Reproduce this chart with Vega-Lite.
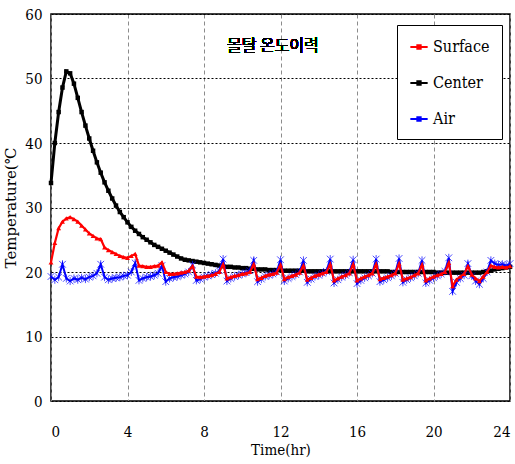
{
  "$schema": "https://vega.github.io/schema/vega-lite/v6.json",
  "width": 459,
  "height": 387,
  "autosize": {"type": "none"},
  "padding": {"left": 51, "top": 14, "right": 5, "bottom": 63},
  "background": "white",
  "config": {
    "view": {"stroke": "#000", "strokeWidth": 1.5},
    "font": "DejaVu Serif Condensed"
  },
  "data": {"values": [
    {"t":0.0,"Surface":21.5,"Center":33.8,"Air":19.3},
    {"t":0.2,"Surface":24.5,"Center":40.0,"Air":18.8},
    {"t":0.4,"Surface":26.8,"Center":44.8,"Air":19.2},
    {"t":0.6,"Surface":27.8,"Center":48.6,"Air":21.2},
    {"t":0.8,"Surface":28.3,"Center":51.1,"Air":19.0},
    {"t":1.0,"Surface":28.5,"Center":50.8,"Air":18.6},
    {"t":1.2,"Surface":28.2,"Center":49.2,"Air":19.0},
    {"t":1.4,"Surface":27.8,"Center":47.0,"Air":18.8},
    {"t":1.6,"Surface":27.2,"Center":44.8,"Air":19.1},
    {"t":1.8,"Surface":26.6,"Center":42.7,"Air":18.9},
    {"t":2.0,"Surface":26.0,"Center":40.7,"Air":19.2},
    {"t":2.2,"Surface":25.6,"Center":38.8,"Air":19.4},
    {"t":2.4,"Surface":25.2,"Center":37.0,"Air":19.8},
    {"t":2.6,"Surface":25.1,"Center":35.4,"Air":21.2},
    {"t":2.8,"Surface":23.8,"Center":33.9,"Air":19.2},
    {"t":3.0,"Surface":23.4,"Center":32.6,"Air":18.8},
    {"t":3.2,"Surface":23.1,"Center":31.4,"Air":19.0},
    {"t":3.4,"Surface":22.8,"Center":30.3,"Air":19.1},
    {"t":3.6,"Surface":22.5,"Center":29.3,"Air":19.2},
    {"t":3.8,"Surface":22.3,"Center":28.5,"Air":19.4},
    {"t":4.0,"Surface":22.2,"Center":27.7,"Air":19.5},
    {"t":4.2,"Surface":22.5,"Center":27.0,"Air":20.0},
    {"t":4.4,"Surface":22.8,"Center":26.4,"Air":21.4},
    {"t":4.6,"Surface":21.0,"Center":25.9,"Air":18.7},
    {"t":4.8,"Surface":20.9,"Center":25.4,"Air":19.0},
    {"t":5.0,"Surface":20.8,"Center":25.0,"Air":19.2},
    {"t":5.2,"Surface":20.8,"Center":24.6,"Air":19.3},
    {"t":5.4,"Surface":20.9,"Center":24.2,"Air":19.5},
    {"t":5.6,"Surface":21.0,"Center":23.9,"Air":19.8},
    {"t":5.8,"Surface":21.5,"Center":23.6,"Air":21.0},
    {"t":6.0,"Surface":20.0,"Center":23.3,"Air":18.5},
    {"t":6.2,"Surface":19.7,"Center":23.0,"Air":19.0},
    {"t":6.4,"Surface":19.7,"Center":22.7,"Air":19.2},
    {"t":6.6,"Surface":19.8,"Center":22.4,"Air":19.3},
    {"t":6.8,"Surface":19.9,"Center":22.1,"Air":19.5},
    {"t":7.0,"Surface":20.0,"Center":21.9,"Air":19.7},
    {"t":7.2,"Surface":20.2,"Center":21.8,"Air":20.0},
    {"t":7.4,"Surface":20.9,"Center":21.7,"Air":21.1},
    {"t":7.6,"Surface":19.3,"Center":21.6,"Air":18.7},
    {"t":7.8,"Surface":19.2,"Center":21.5,"Air":18.9},
    {"t":8.0,"Surface":19.3,"Center":21.4,"Air":19.2},
    {"t":8.2,"Surface":19.4,"Center":21.3,"Air":19.4},
    {"t":8.4,"Surface":19.5,"Center":21.2,"Air":19.6},
    {"t":8.6,"Surface":19.7,"Center":21.1,"Air":19.8},
    {"t":8.8,"Surface":20.0,"Center":21.0,"Air":20.2},
    {"t":9.0,"Surface":21.2,"Center":20.9,"Air":22.0},
    {"t":9.2,"Surface":19.0,"Center":20.8,"Air":18.6},
    {"t":9.4,"Surface":19.2,"Center":20.8,"Air":19.0},
    {"t":9.6,"Surface":19.4,"Center":20.7,"Air":19.3},
    {"t":9.8,"Surface":19.5,"Center":20.7,"Air":19.5},
    {"t":10.0,"Surface":19.7,"Center":20.6,"Air":19.7},
    {"t":10.2,"Surface":19.8,"Center":20.6,"Air":19.9},
    {"t":10.4,"Surface":20.0,"Center":20.5,"Air":20.2},
    {"t":10.6,"Surface":21.2,"Center":20.5,"Air":21.8},
    {"t":10.8,"Surface":18.9,"Center":20.4,"Air":18.5},
    {"t":11.0,"Surface":19.1,"Center":20.4,"Air":18.9},
    {"t":11.2,"Surface":19.4,"Center":20.4,"Air":19.3},
    {"t":11.4,"Surface":19.6,"Center":20.3,"Air":19.5},
    {"t":11.6,"Surface":19.7,"Center":20.3,"Air":19.7},
    {"t":11.8,"Surface":19.9,"Center":20.3,"Air":20.0},
    {"t":12.0,"Surface":21.1,"Center":20.3,"Air":21.9},
    {"t":12.2,"Surface":18.9,"Center":20.2,"Air":18.6},
    {"t":12.4,"Surface":19.2,"Center":20.2,"Air":19.0},
    {"t":12.6,"Surface":19.4,"Center":20.2,"Air":19.3},
    {"t":12.8,"Surface":19.6,"Center":20.2,"Air":19.6},
    {"t":13.0,"Surface":19.9,"Center":20.2,"Air":20.0},
    {"t":13.2,"Surface":21.0,"Center":20.2,"Air":21.8},
    {"t":13.4,"Surface":18.8,"Center":20.1,"Air":18.4},
    {"t":13.6,"Surface":19.1,"Center":20.1,"Air":18.9},
    {"t":13.8,"Surface":19.4,"Center":20.1,"Air":19.3},
    {"t":14.0,"Surface":19.6,"Center":20.1,"Air":19.5},
    {"t":14.2,"Surface":19.8,"Center":20.1,"Air":19.8},
    {"t":14.4,"Surface":20.0,"Center":20.1,"Air":20.1},
    {"t":14.6,"Surface":21.2,"Center":20.1,"Air":22.0},
    {"t":14.8,"Surface":18.7,"Center":20.1,"Air":18.3},
    {"t":15.0,"Surface":19.0,"Center":20.1,"Air":18.8},
    {"t":15.2,"Surface":19.3,"Center":20.1,"Air":19.2},
    {"t":15.4,"Surface":19.5,"Center":20.1,"Air":19.5},
    {"t":15.6,"Surface":19.8,"Center":20.1,"Air":19.9},
    {"t":15.8,"Surface":21.2,"Center":20.1,"Air":21.9},
    {"t":16.0,"Surface":18.7,"Center":20.1,"Air":18.2},
    {"t":16.2,"Surface":19.0,"Center":20.1,"Air":18.7},
    {"t":16.4,"Surface":19.3,"Center":20.1,"Air":19.1},
    {"t":16.6,"Surface":19.5,"Center":20.1,"Air":19.4},
    {"t":16.8,"Surface":19.8,"Center":20.1,"Air":19.8},
    {"t":17.0,"Surface":21.2,"Center":20.1,"Air":22.0},
    {"t":17.2,"Surface":18.9,"Center":20.1,"Air":18.5},
    {"t":17.4,"Surface":19.1,"Center":20.1,"Air":18.8},
    {"t":17.6,"Surface":19.3,"Center":20.1,"Air":19.1},
    {"t":17.8,"Surface":19.5,"Center":20.0,"Air":19.4},
    {"t":18.0,"Surface":19.8,"Center":20.0,"Air":19.8},
    {"t":18.2,"Surface":21.3,"Center":20.0,"Air":22.1},
    {"t":18.4,"Surface":18.8,"Center":20.0,"Air":18.4},
    {"t":18.6,"Surface":19.0,"Center":20.0,"Air":18.8},
    {"t":18.8,"Surface":19.2,"Center":20.0,"Air":19.1},
    {"t":19.0,"Surface":19.5,"Center":20.0,"Air":19.4},
    {"t":19.2,"Surface":19.8,"Center":20.0,"Air":19.8},
    {"t":19.4,"Surface":21.1,"Center":20.0,"Air":21.8},
    {"t":19.6,"Surface":18.7,"Center":20.0,"Air":18.3},
    {"t":19.8,"Surface":19.0,"Center":20.0,"Air":18.7},
    {"t":20.0,"Surface":19.3,"Center":20.0,"Air":19.1},
    {"t":20.2,"Surface":19.5,"Center":19.9,"Air":19.4},
    {"t":20.4,"Surface":19.7,"Center":19.9,"Air":19.7},
    {"t":20.6,"Surface":20.0,"Center":19.9,"Air":20.1},
    {"t":20.8,"Surface":21.4,"Center":19.9,"Air":22.2},
    {"t":21.0,"Surface":17.8,"Center":19.9,"Air":17.0},
    {"t":21.2,"Surface":18.8,"Center":19.9,"Air":18.4},
    {"t":21.4,"Surface":19.3,"Center":19.9,"Air":19.0},
    {"t":21.6,"Surface":19.7,"Center":19.9,"Air":19.5},
    {"t":21.8,"Surface":20.9,"Center":19.9,"Air":21.3},
    {"t":22.0,"Surface":19.6,"Center":19.9,"Air":19.4},
    {"t":22.2,"Surface":19.0,"Center":19.9,"Air":18.6},
    {"t":22.4,"Surface":18.6,"Center":19.9,"Air":18.1},
    {"t":22.6,"Surface":19.3,"Center":20.0,"Air":19.0},
    {"t":22.8,"Surface":20.0,"Center":20.1,"Air":20.0},
    {"t":23.0,"Surface":21.0,"Center":20.2,"Air":21.8},
    {"t":23.2,"Surface":20.8,"Center":20.4,"Air":21.3},
    {"t":23.4,"Surface":20.7,"Center":20.5,"Air":21.1},
    {"t":23.6,"Surface":20.8,"Center":20.6,"Air":21.2},
    {"t":23.8,"Surface":20.7,"Center":20.7,"Air":21.0},
    {"t":24.0,"Surface":20.9,"Center":20.8,"Air":21.3}
  ]},
  "transform": [{"fold": ["Surface", "Center", "Air"], "as": ["series", "temp"]}],
  "encoding": {
    "x": {
      "field": "t", "type": "quantitative",
      "scale": {"domain": [0, 24], "nice": false, "zero": false},
      "axis": {
        "values": [0, 4, 8, 12, 16, 20, 24],
        "title": "Time(hr)",
        "titleFont": "DejaVu Serif Condensed", "titleFontSize": 15, "titleFontWeight": "normal", "titleColor": "#000",
        "titlePadding": 3,
        "labelFont": "DejaVu Serif Condensed", "labelFontSize": 15, "labelColor": "#000",
        "labelPadding": 23,
        "ticks": false, "domain": false,
        "grid": true, "gridColor": "#8c8c8c", "gridDash": [4, 3], "gridWidth": 1
      }
    },
    "y": {
      "field": "temp", "type": "quantitative",
      "scale": {"domain": [0, 60], "nice": false},
      "axis": {
        "values": [0, 10, 20, 30, 40, 50, 60],
        "title": "Temperature(℃",
        "titleFont": "DejaVu Serif", "titleFontSize": 15, "titleFontWeight": "normal", "titleColor": "#000",
        "titlePadding": 6,
        "labelFont": "DejaVu Serif Condensed", "labelFontSize": 15, "labelColor": "#000",
        "labelPadding": 9,
        "ticks": false, "domain": false,
        "grid": true, "gridColor": "#000", "gridDash": [2, 2], "gridWidth": 1
      }
    },
    "color": {
      "field": "series", "type": "nominal",
      "scale": {"domain": ["Surface", "Center", "Air"], "range": ["#ff0000", "#000000", "#0000ff"]},
      "legend": {
        "title": null,
        "orient": "none", "legendX": 346, "legendY": 11,
        "direction": "vertical",
        "strokeColor": "#000", "fillColor": "#fff",
        "padding": 12,
        "symbolType": "M-1,0H1M-0.18,-0.18H0.18V0.18H-0.18Z", "symbolSize": 300, "symbolStrokeWidth": 2.2,
        "labelFont": "DejaVu Serif Condensed", "labelFontSize": 16, "labelColor": "#000",
        "labelOffset": 4, "rowPadding": 18
      }
    }
  },
  "layer": [
    {"transform": [{"filter": "datum.series === 'Center'"}], "mark": {"type": "line", "strokeWidth": 3}},
    {"transform": [{"filter": "datum.series === 'Center'"}], "mark": {"type": "point", "shape": "square", "filled": true, "size": 20, "opacity": 1}},
    {"transform": [{"filter": "datum.series === 'Air'"}], "mark": {"type": "line", "strokeWidth": 2}},
    {"transform": [{"filter": "datum.series === 'Air'"}], "mark": {"type": "point", "shape": "M-1,-1L1,1M-1,1L1,-1M0,-1.2V1.2", "filled": false, "size": 45, "strokeWidth": 1, "opacity": 0.7}},
    {"transform": [{"filter": "datum.series === 'Surface'"}], "mark": {"type": "line", "strokeWidth": 2.2}},
    {"transform": [{"filter": "datum.series === 'Surface'"}], "mark": {"type": "point", "shape": "triangle-up", "filled": true, "size": 24, "opacity": 1}},
    {
      "mark": {"type": "text", "font": "Noto Sans CJK KR DemiLight, Noto Sans CJK KR Light, Noto Sans CJK KR", "fontSize": 16, "fontWeight": "normal", "color": "#000", "align": "center", "baseline": "middle"},
      "encoding": {
        "x": {"datum": 11.6, "type": "quantitative"},
        "y": {"datum": 55.0, "type": "quantitative"},
        "text": {"value": "몰탈 온도이력"},
        "color": {"value": "#000"}
      }
    }
  ]
}
